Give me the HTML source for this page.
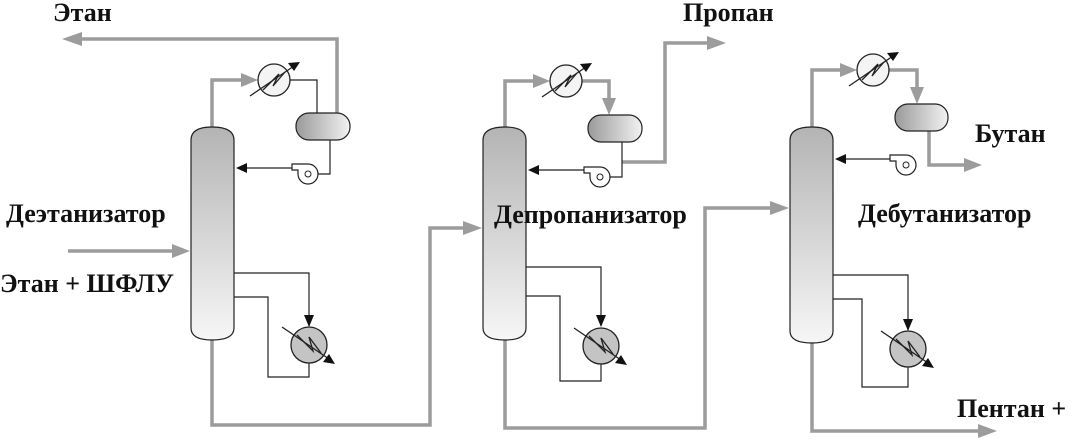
<!DOCTYPE html>
<html><head><meta charset="utf-8"><style>
html,body{margin:0;padding:0;background:#fff;width:1069px;height:439px;overflow:hidden}
text{font-family:"Liberation Serif",serif;font-weight:bold;font-size:26px;fill:#111}
</style></head><body>
<svg width="1069" height="439" viewBox="0 0 1069 439" xmlns="http://www.w3.org/2000/svg">
<defs>
<linearGradient id="col" x1="0" y1="0" x2="0" y2="1"><stop offset="0" stop-color="#b4b4b4"/><stop offset="1" stop-color="#f6f6f6"/></linearGradient>
<linearGradient id="drum" x1="0" y1="0" x2="1" y2="0"><stop offset="0" stop-color="#9a9a9a"/><stop offset="1" stop-color="#f2f2f2"/></linearGradient>
<g id="cond">
<circle cx="0" cy="0" r="16" fill="#f4f4f4" stroke="#222" stroke-width="1.3"/>
<path d="M-11,10 L5,-6 L-1,6 L11,-8" fill="none" stroke="#222" stroke-width="1.3"/>
<line x1="-24" y1="16" x2="20" y2="-14" stroke="#222" stroke-width="1.3"/>
<path d="M26,-18 L14,-17 L20,-9 Z" fill="#111"/>
</g>
<g id="reb">
<circle cx="0" cy="0" r="18" fill="#c4c4c4" stroke="#222" stroke-width="1.3"/>
<path d="M-12,-10 L4,6 L0,-8 L12,8" fill="none" stroke="#222" stroke-width="1.3"/>
<line x1="-27" y1="-18" x2="20" y2="14" stroke="#222" stroke-width="1.3"/>
<path d="M26,19 L14,17 L20,9 Z" fill="#111"/>
</g>
<g id="pump">
<path d="M0,-10 A10,10 0 1 1 -10,0 M0,-10 L-16,-10 L-16,-4 L-10,-4 L-10,0" fill="#fff" stroke="#222" stroke-width="1.2"/>
<circle cx="0" cy="0" r="3" fill="#fff" stroke="#222" stroke-width="1"/>
</g>
</defs>

<!-- UNIT 1 -->
<g fill="none" stroke="#9c9c9c" stroke-width="3.5">
<path d="M212,127 V80 H244"/>
<path d="M337,113 V39 H78"/>
<path d="M68,251 H175"/>
<path d="M212,338 V425 H430 V228 H466"/>
</g>
<g fill="#9c9c9c">
<path d="M258,80 L241,73 L241,87 Z"/>
<path d="M62,39 L82,32 L82,46 Z"/>
<path d="M190,251 L172,244 L172,258 Z"/>
<path d="M482,228 L463,221 L463,235 Z"/>
</g>
<g fill="none" stroke="#222" stroke-width="1.2">
<path d="M290,80 H317 V113"/>
<path d="M330,140 V174 H318"/>
<path d="M292,168 H244"/>
<path d="M234,273 H309 V326"/>
<path d="M234,297 H268 V377 H309 V363"/>
</g>
<path d="M236,168 L247,163 L247,173 Z" fill="#111"/>
<path d="M309,327 L304,315 L314,315 Z" fill="#111"/>
<path d="M191,140 Q191,127 212,127 Q234,127 234,140 V328 Q234,340 212,340 Q191,340 191,328 Z" fill="url(#col)" stroke="#222" stroke-width="1.2"/>
<rect x="296" y="113" width="54" height="27" rx="13" fill="url(#drum)" stroke="#222" stroke-width="1.2"/>
<use href="#cond" x="274" y="80"/>
<use href="#reb" x="309" y="345"/>
<use href="#pump" x="308" y="174"/>

<!-- UNIT 2 -->
<g fill="none" stroke="#9c9c9c" stroke-width="3.5">
<path d="M505,127 V81 H536"/>
<path d="M582,81 H609 V101"/>
<path d="M622,162 H665 V43 H710"/>
<path d="M505,338 V428 H705 V208 H772"/>
</g>
<g fill="#9c9c9c">
<path d="M550,81 L533,74 L533,88 Z"/>
<path d="M609,115 L602,98 L616,98 Z"/>
<path d="M726,43 L707,36 L707,50 Z"/>
<path d="M789,208 L770,201 L770,215 Z"/>
</g>
<g fill="none" stroke="#222" stroke-width="1.2">
<path d="M622,142 V177 H610"/>
<path d="M584,170 H536"/>
<path d="M526,267 H601 V326"/>
<path d="M526,296 H560 V381 H601 V363"/>
</g>
<path d="M528,170 L539,165 L539,175 Z" fill="#111"/>
<path d="M601,327 L596,315 L606,315 Z" fill="#111"/>
<path d="M483,140 Q483,127 505,127 Q526,127 526,140 V328 Q526,340 505,340 Q483,340 483,328 Z" fill="url(#col)" stroke="#222" stroke-width="1.2"/>
<rect x="588" y="115" width="54" height="27" rx="13" fill="url(#drum)" stroke="#222" stroke-width="1.2"/>
<use href="#cond" x="566" y="81"/>
<use href="#reb" x="601" y="346"/>
<use href="#pump" x="600" y="177"/>

<!-- UNIT 3 -->
<g fill="none" stroke="#9c9c9c" stroke-width="3.5">
<path d="M812,127 V70 H843"/>
<path d="M889,70 H917 V90"/>
<path d="M929,131 V165 H968"/>
<path d="M812,341 V431 H982"/>
</g>
<g fill="#9c9c9c">
<path d="M857,70 L840,63 L840,77 Z"/>
<path d="M917,104 L910,87 L924,87 Z"/>
<path d="M982,165 L964,158 L964,172 Z"/>
<path d="M997,431 L978,424 L978,438 Z"/>
</g>
<g fill="none" stroke="#222" stroke-width="1.2">
<path d="M890,159 H843"/>
<path d="M833,275 H908 V330"/>
<path d="M833,299 H862 V387 H908 V366"/>
</g>
<path d="M835,159 L846,154 L846,164 Z" fill="#111"/>
<path d="M908,331 L903,319 L913,319 Z" fill="#111"/>
<path d="M790,140 Q790,127 812,127 Q833,127 833,140 V331 Q833,343 812,343 Q790,343 790,331 Z" fill="url(#col)" stroke="#222" stroke-width="1.2"/>
<rect x="895" y="104" width="53" height="27" rx="13" fill="url(#drum)" stroke="#222" stroke-width="1.2"/>
<use href="#cond" x="873" y="70"/>
<use href="#reb" x="908" y="349"/>
<use href="#pump" x="906" y="165"/>

<!-- Labels -->
<text x="53" y="21">Этан</text>
<text x="683" y="21">Пропан</text>
<text x="975" y="142">Бутан</text>
<text x="6" y="222">Деэтанизатор</text>
<text x="0" y="292">Этан + ШФЛУ</text>
<text x="494" y="223">Депропанизатор</text>
<text x="858" y="222">Дебутанизатор</text>
<text x="957" y="417">Пентан +</text>
</svg>
</body></html>
